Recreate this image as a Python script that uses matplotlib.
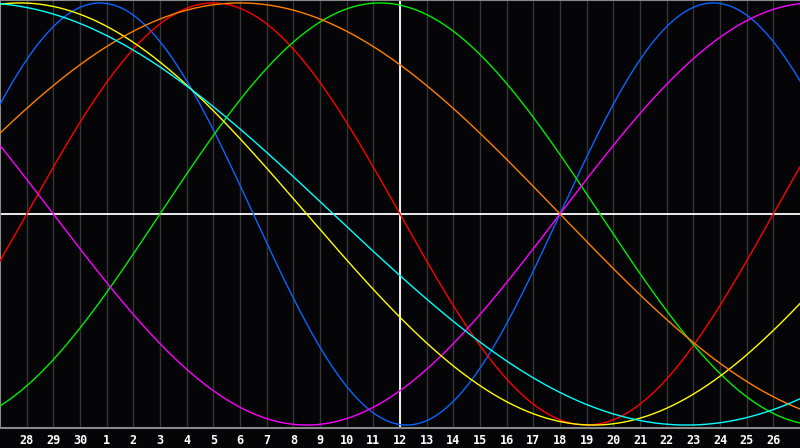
import numpy as np
import matplotlib.pyplot as plt

# biorhythm cycles: period (days), day index of the rising zero crossing, colour
names = ["physical", "emotional", "intellectual", "intuitive", "aesthetic", "awareness", "spiritual"]
periods = [23, 28, 33, 38, 43, 48, 53]
rise_day = [21.0, 1.0, 6.0, 21.0, -10.0, -3.0, -14.0]
colors = ["#0a64ff", "#ff0000", "#00ee00", "#ff00ff", "#ffff00", "#ff8000", "#00ffff"]

day_labels = [28, 29, 30, 1, 2, 3, 4, 5, 6, 7, 8, 9, 10, 11, 12,
              13, 14, 15, 16, 17, 18, 19, 20, 21, 22, 23, 24, 25, 26]
today_idx = 15          # position of "12"
n_days = 30

bg = "#050508"
fig = plt.figure(figsize=(8, 4.48), dpi=100, facecolor=bg)
ax = fig.add_axes([0, 20 / 448, 1, 428 / 448], facecolor=bg)

# day grid
for k in range(1, len(day_labels) + 1):
    ax.axvline(k, color="#353535", lw=1, zorder=1)

days = np.linspace(0, n_days, 1201)
for p, r, c in zip(periods, rise_day, colors):
    ax.plot(days, np.sin(2 * np.pi * (days - r) / p), color=c, lw=1, zorder=3)

ax.axhline(0, color="white", lw=1.3, zorder=2)
ax.axvline(today_idx, color="white", lw=1.3, zorder=2)

ax.set_xlim(0, n_days)
ax.set_ylim(-1.014, 1.014)
ax.set_xticks(range(1, len(day_labels) + 1))
ax.set_xticklabels([str(d) for d in day_labels], color="white",
                   fontsize=8.5, fontweight="bold", family="DejaVu Sans Mono")
ax.tick_params(axis="x", length=0, pad=4)
ax.set_yticks([])
for side in ["left", "top", "bottom"]:
    ax.spines[side].set_color("#8a8a8a")
    ax.spines[side].set_linewidth(1.5)
ax.spines["right"].set_visible(False)

fig.savefig("out.png", dpi=100, facecolor=bg)
